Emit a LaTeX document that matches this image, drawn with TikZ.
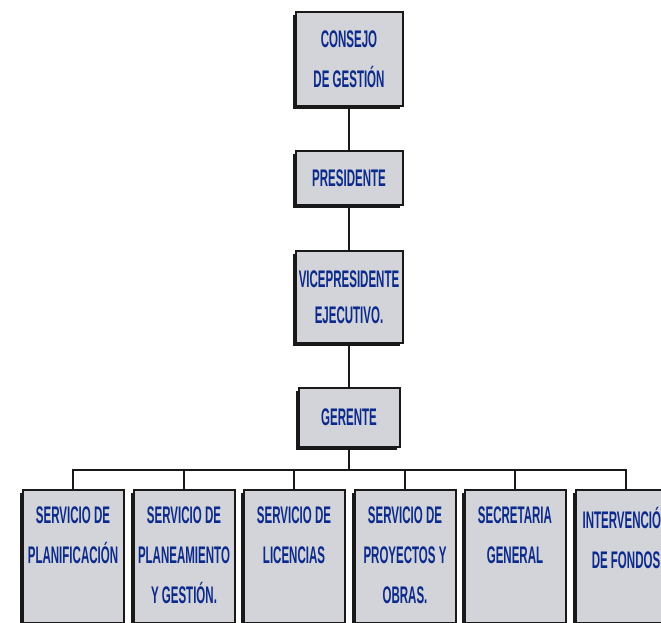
\documentclass[tikz,border=0pt]{standalone}
\usepackage{fontspec}
\newfontfamily\orgfont[FakeStretch=0.48]{Liberation Sans}
\usetikzlibrary{positioning,shadows}
\definecolor{boxgray}{RGB}{210,212,217}
\definecolor{textblue}{RGB}{12,42,140}
\begin{document}
\begin{tikzpicture}[x=1pt, y=-1pt,
  org/.style={draw=black!90, line width=2pt, fill=boxgray,
    general shadow={fill=black!90, shadow xshift=-3pt, shadow yshift=-3pt},
    text=textblue, font=\orgfont\bfseries\fontsize{24}{40}\selectfont,
    align=center, minimum width=107pt, inner sep=0pt},
  unit/.style={org, minimum width=101pt, minimum height=133pt, anchor=north},
  unittxt/.style={text=textblue, font=\orgfont\bfseries\fontsize{24}{40}\selectfont,
    align=center, anchor=north, inner sep=0pt, execute at begin node=\vphantom{Ó}},
  conn/.style={draw=black!90, line width=2pt}]
\useasboundingbox (0,0) rectangle (661,623);
% top of the chart
\node[org, minimum height=94pt] (consejo) at (349,59) {CONSEJO\\DE GESTIÓN};
\node[org, minimum height=54pt] (presidente) at (349,178) {PRESIDENTE};
\node[org, minimum height=92pt] (vice) at (349,297) {VICEPRESIDENTE\\[-4pt]EJECUTIVO.};
\node[org, minimum width=101pt, minimum height=59pt] (gerente) at (349,417.5) {GERENTE};
\coordinate (bar) at (349,470);
% services
\node[unit] (plan) at (73,489) {};
\node[unit] (plane) at (184,489) {};
\node[unit] (lic) at (294,489) {};
\node[unit] (proy) at (405,489) {};
\node[unit] (secr) at (515,489) {};
\node[unit] (interv) at (626,489) {};
\node[unittxt, below=18pt of plan.north] (planT) {SERVICIO DE\\PLANIFICACIÓN};
\node[unittxt, below=18pt of plane.north] (planeT) {SERVICIO DE\\PLANEAMIENTO\\Y GESTIÓN.};
\node[unittxt, below=18pt of lic.north] (licT) {SERVICIO DE\\LICENCIAS};
\node[unittxt, below=18pt of proy.north] (proyT) {SERVICIO DE\\PROYECTOS Y\\OBRAS.};
\node[unittxt, below=18pt of secr.north] (secrT) {SECRETARIA\\GENERAL};
\node[unittxt, below=18pt of interv.north] (intervT) {INTERVENCIÓN\\DE FONDOS};
\draw[conn] (consejo) -- (presidente);
\draw[conn] (presidente) -- (vice);
\draw[conn] (vice) -- (gerente);
\draw[conn] (gerente) -- (bar);
\foreach \n in {plan,plane,lic,proy,secr,interv}
  \draw[conn] (bar) -| (\n.north);
\end{tikzpicture}
\end{document}
